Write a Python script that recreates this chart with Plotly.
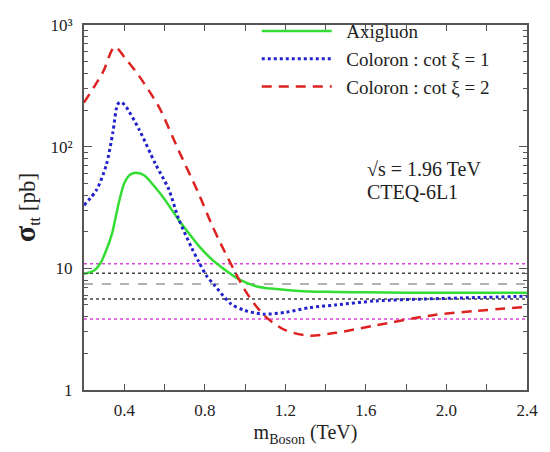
import plotly.graph_objects as go

# ---- data ----
axi_x = [0.2, 0.25, 0.28, 0.31, 0.34, 0.37, 0.40, 0.43, 0.46, 0.50, 0.55, 0.60, 0.67, 0.72, 0.77,
         0.82, 0.87, 0.92, 0.97, 1.0, 1.05, 1.1, 1.16, 1.25, 1.32, 1.45, 1.6, 1.8, 2.0, 2.2, 2.4]
axi_y = [9.0, 9.6, 10.9, 14, 19.5, 33, 50, 59, 61, 58, 47, 37, 25, 19.5, 15.3,
         12.5, 10.6, 9.2, 8.1, 7.7, 7.15, 6.9, 6.75, 6.55, 6.45, 6.4, 6.35, 6.3, 6.3, 6.3, 6.3]

col1_x = [0.2, 0.262, 0.311, 0.343, 0.368, 0.385, 0.405, 0.474, 0.555, 0.62, 0.67,
          0.735, 0.77, 0.808, 0.85, 0.93, 1.0, 1.09, 1.2, 1.32, 1.45, 1.65, 1.9, 2.15, 2.4]
col1_y = [33, 44, 71, 130, 224, 232, 217, 138, 72, 45, 25.5,
          14.7, 11.3, 8.7, 7.2, 5.1, 4.5, 4.2, 4.35, 4.75, 5.0, 5.4, 5.6, 5.75, 5.9]

col2_x = [0.2, 0.294, 0.352, 0.41, 0.474, 0.572, 0.67, 0.767, 0.832, 0.88, 0.963, 1.0, 1.05,
          1.11, 1.2, 1.32, 1.45, 1.65, 1.94, 2.15, 2.4]
col2_y = [230, 410, 660, 520, 380, 212, 93, 42, 23.4, 15.8, 8.5, 6.6, 5.0,
          3.9, 3.1, 2.8, 2.95, 3.4, 4.14, 4.47, 4.82]

band_x = [0.2, 2.4]
band_levels = [10.9, 9.1, 7.45, 5.6, 3.83]
band_colors = ["#dd44dd", "#444444", "#999999", "#444444", "#dd44dd"]
band_dash = ["dot", "dot", "dash", "dot", "dot"]

series_names = ["Axigluon", "Coloron : cot ξ = 1", "Coloron : cot ξ = 2"]

x_tickvals = [0.4, 0.8, 1.2, 1.6, 2.0, 2.4]
x_ticktext = ["0.4", "0.8", "1.2", "1.6", "2.0", "2.4"]
y_tickvals = [1, 10, 100, 1000]
y_ticktext = ["1", "10", "10²", "10³"]
y_minor = [m * d for d in (1, 10, 100) for m in range(2, 10)]

FONT = "Liberation Serif"
PAD = "\u00a0\u00a0"

fig = go.Figure()

for lvl, c, d in zip(band_levels, band_colors, band_dash):
    fig.add_trace(go.Scatter(x=band_x, y=[lvl, lvl], mode="lines",
                             line=dict(color=c, width=1.5, dash=d),
                             showlegend=False, hoverinfo="skip"))

fig.add_trace(go.Scatter(x=axi_x, y=axi_y, mode="lines", name=PAD + series_names[0],
                         legendgroup="a", line=dict(color="#33dd33", width=2.5, shape="spline", smoothing=0.8)))
fig.add_trace(go.Scatter(x=col1_x, y=col1_y, mode="lines", name=PAD + series_names[1],
                         legendgroup="b", line=dict(color="#2222cc", width=3, dash="dot", shape="spline", smoothing=0.8)))
fig.add_trace(go.Scatter(x=col2_x, y=col2_y, mode="lines", name=PAD + series_names[2],
                         legendgroup="c", line=dict(color="#dd2222", width=2.5, dash="10px,7px", shape="spline", smoothing=0.8)))

axis_common = dict(showline=True, linecolor="#555555", linewidth=2, mirror="ticks",
                   ticks="inside", tickcolor="#555555", showgrid=False, zeroline=False,
                   tickfont=dict(family=FONT, size=17, color="#222222"))

fig.update_xaxes(range=[0.2, 2.4], tickmode="array", tickvals=x_tickvals, ticktext=x_ticktext,
                 ticklen=6, tickwidth=1.2, ticklabelstandoff=4,
                 minor=dict(dtick=0.2, tick0=0.2, ticks="inside", ticklen=6, tickcolor="#555555"),
                 title=dict(text="m<sub>Boson</sub> (TeV)", font=dict(family=FONT, size=20, color="#222222"),
                            standoff=6),
                 **axis_common)
fig.update_yaxes(type="log", range=[0, 3], tickmode="array", tickvals=y_tickvals, ticktext=y_ticktext,
                 ticklen=8, tickwidth=1.2, ticklabelstandoff=6,
                 minor=dict(tickvals=y_minor, ticks="inside", ticklen=4, tickcolor="#555555"),
                 title=dict(text="<span style='font-size:30px'><b>σ</b></span><sub>tt</sub> [pb]",
                            font=dict(family=FONT, size=23, color="#222222"), standoff=8),
                 **axis_common)

fig.add_annotation(x=0.635, y=0.606, xref="paper", yref="paper", xanchor="left", yanchor="middle",
                   text="√s = 1.96 TeV", showarrow=False, font=dict(family=FONT, size=20, color="#222222"))
fig.add_annotation(x=0.635, y=0.543, xref="paper", yref="paper", xanchor="left", yanchor="middle",
                   text="CTEQ-6L1", showarrow=False, font=dict(family=FONT, size=20, color="#222222"))

fig.update_layout(
    width=550, height=452,
    margin=dict(l=84, r=16, t=14, b=57),
    paper_bgcolor="white", plot_bgcolor="white",
    legend=dict(x=0.39, y=1.035, xanchor="left", yanchor="top", bgcolor="rgba(0,0,0,0)",
                itemwidth=70, tracegroupgap=0,
                font=dict(family=FONT, size=19, color="#222222")),
)

fig.write_html("out.html")
